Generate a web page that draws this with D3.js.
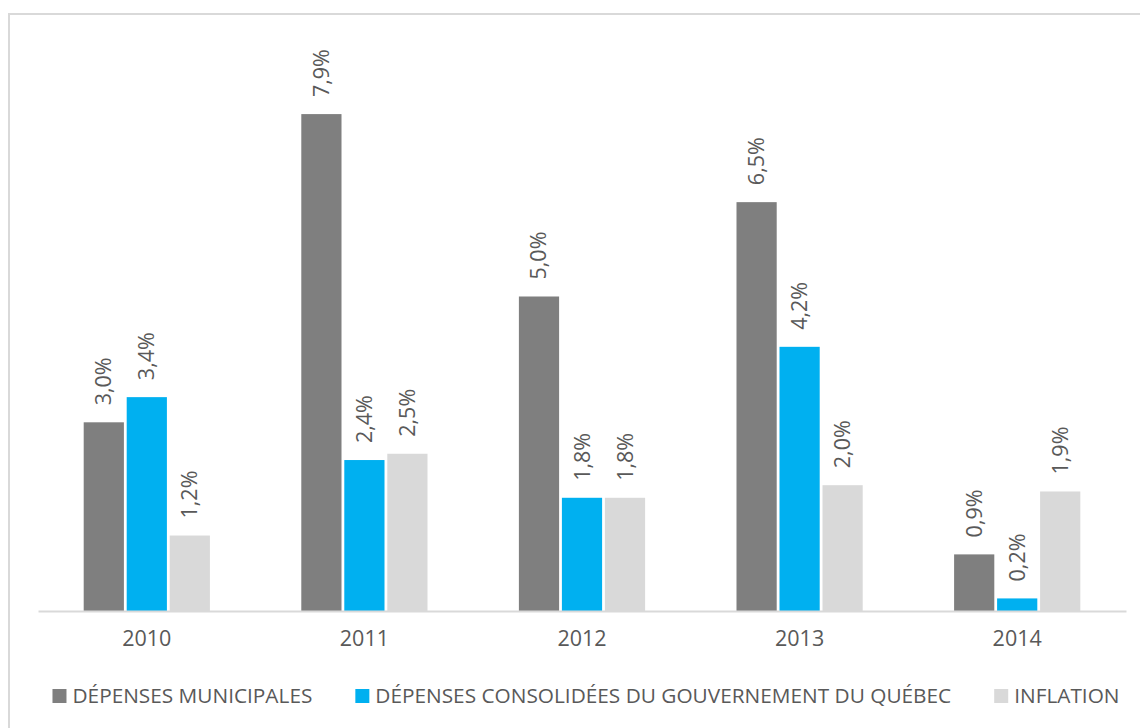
<!DOCTYPE html>
<html>
<head>
<meta charset="utf-8">
<script src="https://cdn.jsdelivr.net/npm/d3@7"></script>
<style>
  body { margin: 0; background: #fff; }
  text { font-family: "Open Sans", sans-serif; fill: #595959; }
</style>
</head>
<body>
<div id="chart"></div>
<script>
// données
var annees = ["2010", "2011", "2012", "2013", "2014"];
var series = ["DÉPENSES MUNICIPALES", "DÉPENSES CONSOLIDÉES DU GOUVERNEMENT DU QUÉBEC", "INFLATION"];
var municipales = [3.0, 7.9, 5.0, 6.5, 0.9];
var gouvernement = [3.4, 2.4, 1.8, 4.2, 0.2];
var inflation = [1.2, 2.5, 1.8, 2.0, 1.9];
var couleurs = ["#7f7f7f", "#00b0f0", "#d9d9d9"];

var W = 1140, H = 728;
var valeurs = [municipales, gouvernement, inflation];
var dados = annees.map(function (a, i) {
    return { annee: a, vals: series.map(function (s, j) { return { serie: s, v: valeurs[j][i], k: j }; }) };
});

var svg = d3.select("#chart").append("svg")
    .attr("width", W)
    .attr("height", H);

// cadre du graphique
svg.append("rect")
    .attr("x", 9).attr("y", 14)
    .attr("width", W + 20).attr("height", H + 20)
    .attr("fill", "none")
    .attr("stroke", "#d9d9d9")
    .attr("stroke-width", 2);

/*
 * Les échelles
 */
var x0 = d3.scaleBand()
    .domain(annees)
    .range([38, 1126])
    .paddingInner(0.42)
    .paddingOuter(0.21);

var x1 = d3.scaleBand()
    .domain(series)
    .range([0, x0.bandwidth()])
    .paddingInner(0.065);

var y = d3.scaleLinear()
    .domain([0, 9])
    .range([611, 611 - 9 * 62.9]);

/*
 * Les barres
 */
var groupes = svg.selectAll("g.annee")
    .data(dados)
    .enter()
    .append("g")
    .attr("class", "annee")
    .attr("transform", function (d) { return "translate(" + x0(d.annee) + ",0)"; });

groupes.selectAll("rect")
    .data(function (d) { return d.vals; })
    .enter()
    .append("rect")
    .attr("x", function (d) { return x1(d.serie); })
    .attr("y", function (d) { return y(d.v); })
    .attr("width", x1.bandwidth())
    .attr("height", function (d) { return y(0) - y(d.v); })
    .attr("fill", function (d) { return couleurs[d.k]; });

// étiquettes verticales
groupes.selectAll("text")
    .data(function (d) { return d.vals; })
    .enter()
    .append("text")
    .attr("transform", function (d) {
        return "translate(" + (x1(d.serie) + x1.bandwidth() / 2 + 7.5) + "," + (y(d.v) - 17) + ") rotate(-90)";
    })
    .attr("font-size", 21.5)
    .text(function (d) { return d.v.toFixed(1).replace(".", ",") + "%"; });

/*
 * L'axe
 */
var axe = svg.append("g")
    .attr("transform", "translate(0," + y(0) + ")")
    .call(d3.axisBottom(x0).tickSize(0).tickPadding(20));
axe.select(".domain").attr("stroke", "#d9d9d9").attr("stroke-width", 2);
axe.selectAll("text")
    .attr("font-size", 21.5)
    .attr("fill", "#595959")
    .style("font-family", "'Open Sans', sans-serif");

/*
 * La légende
 */
var legende = svg.append("g");
var items = legende.selectAll("g")
    .data(series)
    .enter()
    .append("g");
items.append("rect")
    .attr("width", 14).attr("height", 14)
    .attr("y", 689)
    .attr("fill", function (d, i) { return couleurs[i]; });
items.append("text")
    .attr("x", 20)
    .attr("y", 703)
    .attr("font-size", 20.8)
    .text(function (d) { return d; });

var pos = [], cur = 0;
items.each(function (d, i) {
    var w = 20 + d3.select(this).select("text").node().getComputedTextLength();
    pos.push(cur);
    cur += w + 43;
});
var total = cur - 43;
var debut = 586 - total / 2;
items.attr("transform", function (d, i) { return "translate(" + (debut + pos[i]) + ",0)"; });
</script>
</body>
</html>
